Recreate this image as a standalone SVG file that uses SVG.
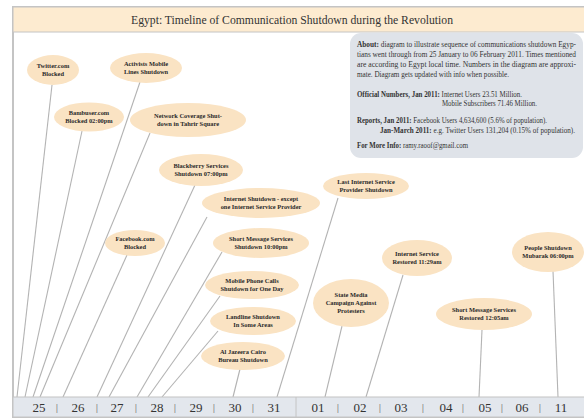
<svg xmlns="http://www.w3.org/2000/svg" width="584" height="419" viewBox="0 0 584 419">
<style>
.node ellipse{fill:#fae3c3;stroke:none}
.node text{font-family:"Liberation Serif","Times New Roman",serif;font-size:6.4px;font-weight:bold;fill:#2a2a2a;text-anchor:middle}
.conn line{stroke:#b3b3b3;stroke-width:1.1}
.date{font-family:"Liberation Serif","Times New Roman",serif;font-size:13px;fill:#333;text-anchor:middle}
.sep{font-family:"Liberation Sans",Arial,sans-serif;font-size:9px;fill:#888;text-anchor:middle}
.info{font-family:"Liberation Serif","Times New Roman",serif;font-size:7.2px;fill:#333}
.info .b{font-weight:bold}
</style>
<rect x="0" y="0" width="584" height="419" fill="#ffffff"/>
<rect x="13" y="7" width="575" height="410" fill="#ffffff" stroke="#c4c4c4" stroke-width="2"/>
<g id="title">
<rect x="13" y="7" width="575" height="25" fill="#fdebd0" stroke="#c4c4c4" stroke-width="1"/>
<text x="292" y="24" font-family="Liberation Serif, Times New Roman, serif" font-size="13" fill="#333" text-anchor="middle" textLength="322" lengthAdjust="spacingAndGlyphs">Egypt: Timeline of Communication Shutdown during the Revolution</text>
</g>
<g id="info">
<rect x="350" y="33" width="233" height="125" rx="11" fill="#dfe3e9"/>
<text class="info" x="357" y="47" textLength="219" lengthAdjust="spacingAndGlyphs"><tspan class="b">About:</tspan> diagram to illustrate sequence of communications shutdown Egyp-</text>
<text class="info" x="357" y="57" textLength="219" lengthAdjust="spacingAndGlyphs">tians went through from 25 January to 06 February 2011. Times mentioned</text>
<text class="info" x="357" y="67" textLength="219" lengthAdjust="spacingAndGlyphs">are according to Egypt local time. Numbers in the diagram are approxi-</text>
<text class="info" x="357" y="77" textLength="152" lengthAdjust="spacingAndGlyphs">mate. Diagram gets updated with info when possible.</text>
<text class="info" x="357" y="97" textLength="165" lengthAdjust="spacingAndGlyphs"><tspan class="b">Official Numbers, Jan 2011:</tspan>  Internet Users 23.51 Million.</text>
<text class="info" x="442" y="106" textLength="95" lengthAdjust="spacingAndGlyphs">Mobile Subscribers 71.46 Million.</text>
<text class="info" x="357" y="123" textLength="190" lengthAdjust="spacingAndGlyphs"><tspan class="b">Reports, Jan 2011:</tspan> Facebook Users 4,634,600  (5.6% of population).</text>
<text class="info" x="380" y="133" textLength="195" lengthAdjust="spacingAndGlyphs"><tspan class="b">Jan-March 2011:</tspan> e.g. Twitter Users 131,204 (0.15% of population).</text>
<text class="info" x="357" y="148" textLength="111" lengthAdjust="spacingAndGlyphs"><tspan class="b">For More Info:</tspan> ramy.raoof@gmail.com</text>
</g>
<g id="connectors" class="conn">
<line x1="52" y1="85" x2="17" y2="397"/>
<line x1="140" y1="82" x2="33" y2="397"/>
<line x1="82" y1="131" x2="25" y2="397"/>
<line x1="150" y1="133" x2="40" y2="397"/>
<line x1="195" y1="185" x2="97" y2="397"/>
<line x1="207" y1="217" x2="109" y2="397"/>
<line x1="127" y1="255" x2="63" y2="397"/>
<line x1="222" y1="252" x2="137" y2="397"/>
<line x1="220" y1="296" x2="148" y2="397"/>
<line x1="218" y1="331" x2="162" y2="397"/>
<line x1="240" y1="369" x2="233" y2="397"/>
<line x1="338" y1="198" x2="277" y2="397"/>
<line x1="342" y1="326" x2="325" y2="397"/>
<line x1="403" y1="275" x2="366" y2="397"/>
<line x1="482" y1="330" x2="479" y2="397"/>
<line x1="553" y1="271" x2="558" y2="397"/>
</g>
<g id="twitter" class="node"><ellipse cx="53" cy="70" rx="26" ry="15"/><text x="53" y="68">Twitter.com</text><text x="53" y="76">Blocked</text></g>
<g id="activists" class="node"><ellipse cx="146" cy="68" rx="36" ry="15"/><text x="146" y="66">Activists Mobile</text><text x="146" y="74">Lines Shutdown</text></g>
<g id="bambuser" class="node"><ellipse cx="89" cy="117" rx="35" ry="14.5"/><text x="89" y="115">Bambuser.com</text><text x="89" y="123">Blocked 02:00pm</text></g>
<g id="network" class="node"><ellipse cx="188" cy="120" rx="58" ry="17"/><text x="188" y="118">Network Coverage Shut-</text><text x="188" y="126">down in Tahrir Square</text></g>
<g id="blackberry" class="node"><ellipse cx="201" cy="170" rx="42" ry="16"/><text x="201" y="168">Blackberry Services</text><text x="201" y="176">Shutdown 07:00pm</text></g>
<g id="internet" class="node"><ellipse cx="261" cy="203" rx="59" ry="15"/><text x="261" y="201">Internet Shutdown - except</text><text x="261" y="209">one Internet Service Provider</text></g>
<g id="facebook" class="node"><ellipse cx="135" cy="243" rx="30" ry="13"/><text x="135" y="241">Facebook.com</text><text x="135" y="249">Blocked</text></g>
<g id="sms" class="node"><ellipse cx="261" cy="243" rx="48" ry="15"/><text x="261" y="241">Short Message Services</text><text x="261" y="249">Shutdown 10:00pm</text></g>
<g id="mobile" class="node"><ellipse cx="252" cy="285" rx="47" ry="14"/><text x="252" y="283">Mobile Phone Calls</text><text x="252" y="291">Shutdown for One Day</text></g>
<g id="landline" class="node"><ellipse cx="253" cy="321" rx="43" ry="14"/><text x="253" y="319">Landline Shutdown</text><text x="253" y="327">In Some Areas</text></g>
<g id="aljazeera" class="node"><ellipse cx="243" cy="356" rx="42" ry="14"/><text x="243" y="354">Al Jazeera Cairo</text><text x="243" y="362">Bureau Shutdown</text></g>
<g id="lastisp" class="node"><ellipse cx="366" cy="186" rx="43" ry="13"/><text x="366" y="184">Last Internet Service</text><text x="366" y="192">Provider Shutdown</text></g>
<g id="statemedia" class="node"><ellipse cx="351" cy="303" rx="38" ry="24"/><text x="351" y="297">State Media</text><text x="351" y="305">Campaign Against</text><text x="351" y="313">Protesters</text></g>
<g id="restored" class="node"><ellipse cx="417" cy="258" rx="35" ry="18"/><text x="417" y="256">Internet Service</text><text x="417" y="264">Restored 11:29am</text></g>
<g id="smsrestored" class="node"><ellipse cx="484" cy="314" rx="48" ry="16"/><text x="484" y="312">Short Message Services</text><text x="484" y="320">Restored 12:05am</text></g>
<g id="mubarak" class="node"><ellipse cx="548" cy="252" rx="36" ry="20"/><text x="548" y="250">People Shutdown</text><text x="548" y="258">Mubarak 06:00pm</text></g>
<g id="axis">
<rect x="13" y="397" width="575" height="20" fill="#e3e7ed" stroke="#c4c4c4" stroke-width="1"/>
<line x1="296" y1="397" x2="296" y2="417" stroke="#c4c4c4" stroke-width="1"/>
<text class="date" x="39" y="412">25</text><text class="sep" x="57" y="411">|</text>
<text class="date" x="78" y="412">26</text><text class="sep" x="97" y="411">|</text>
<text class="date" x="117" y="412">27</text><text class="sep" x="136" y="411">|</text>
<text class="date" x="157" y="412">28</text><text class="sep" x="175" y="411">|</text>
<text class="date" x="196" y="412">29</text><text class="sep" x="214" y="411">|</text>
<text class="date" x="235" y="412">30</text><text class="sep" x="253" y="411">|</text>
<text class="date" x="274" y="412">31</text>
<text class="date" x="318" y="412">01</text><text class="sep" x="338" y="411">|</text>
<text class="date" x="360" y="412">02</text><text class="sep" x="380" y="411">|</text>
<text class="date" x="401" y="412">03</text><text class="sep" x="423" y="411">|</text>
<text class="date" x="446" y="412">04</text><text class="sep" x="463" y="411">|</text>
<text class="date" x="485" y="412">05</text><text class="sep" x="502" y="411">|</text>
<text class="date" x="522" y="412">06</text><text class="sep" x="540" y="411">|</text>
<text class="date" x="561" y="412">11</text>
</g>
</svg>
